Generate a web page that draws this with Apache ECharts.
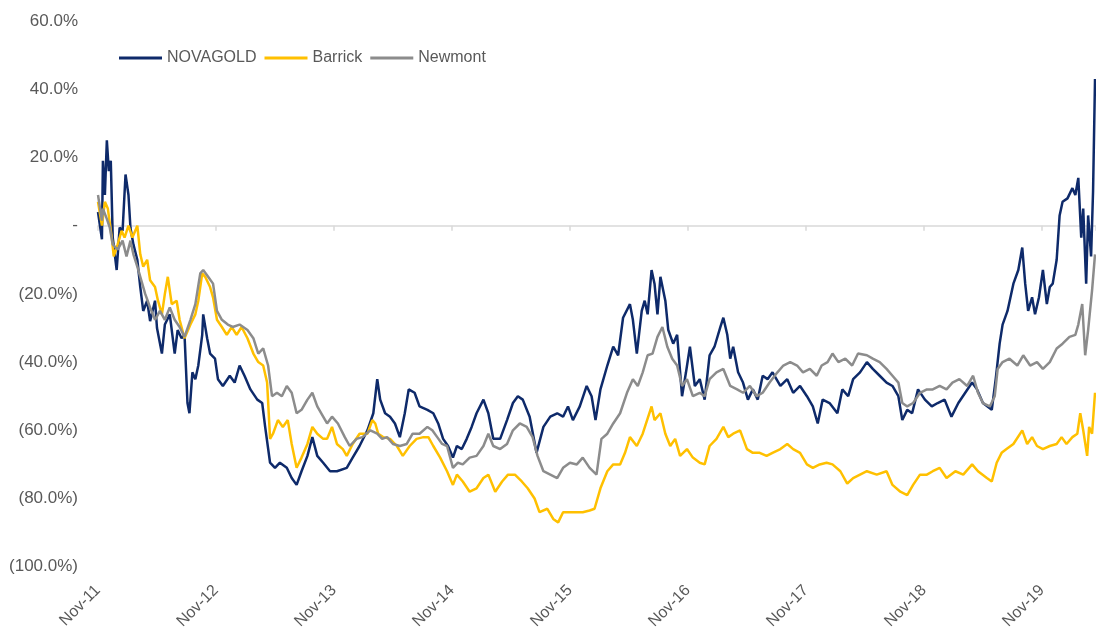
<!DOCTYPE html>
<html>
<head>
<meta charset="utf-8">
<script src="https://cdn.jsdelivr.net/npm/echarts@6/dist/echarts.min.js"></script>
<style>
html,body{margin:0;padding:0;background:#fff;}
#chart{width:1096px;height:632px;}
</style>
</head>
<body>
<div id="chart"></div>
<script>
// x values are months since Nov-2011
const xTickLabels = ['Nov-11','Nov-12','Nov-13','Nov-14','Nov-15','Nov-16','Nov-17','Nov-18','Nov-19'];
const seriesNames = ['NOVAGOLD','Barrick','Newmont'];

const novaMonths = [0.0,0.4,0.5,0.7,0.9,1.1,1.3,1.5,1.9,2.2,2.5,2.8,3.1,3.3,3.6,4.0,4.3,4.6,5.0,5.3,5.8,6.0,6.5,6.8,7.3,7.8,8.1,8.5,8.8,9.1,9.3,9.6,9.9,10.2,10.6,10.7,11.1,11.4,11.9,12.2,12.7,13.4,13.9,14.4,14.9,15.5,16.2,16.7,17.0,17.5,18.0,18.5,19.2,19.7,20.2,20.7,21.3,21.8,22.3,22.9,23.6,24.3,25.3,25.9,26.6,27.4,28.0,28.4,28.7,29.2,29.7,30.2,30.7,31.2,31.6,32.2,32.7,33.5,34.1,34.6,35.1,35.6,36.1,36.5,37.0,37.5,38.0,38.5,39.2,39.7,40.2,40.9,41.6,42.2,42.7,43.2,43.9,44.6,45.3,46.0,46.7,47.3,47.8,48.3,49.0,49.7,50.2,50.6,51.1,51.8,52.4,52.9,53.4,54.1,54.4,54.8,55.3,55.6,55.9,56.3,56.6,56.9,57.2,57.7,58.0,58.5,58.9,59.4,59.8,60.2,60.7,61.2,61.7,62.2,62.7,63.3,63.6,64.0,64.3,64.6,65.1,65.6,66.1,66.6,67.1,67.6,68.1,68.6,69.4,70.1,70.7,71.4,72.1,72.7,73.2,73.7,74.4,75.2,75.7,76.3,76.8,77.5,78.2,78.8,79.5,80.2,80.8,81.4,81.8,82.3,82.8,83.4,84.1,84.8,85.4,86.1,86.8,87.5,88.2,88.9,89.4,90.0,90.9,91.3,91.7,92.0,92.5,93.1,93.6,94.0,94.3,94.6,95.0,95.3,95.7,96.1,96.5,96.8,97.1,97.5,97.8,98.1,98.6,99.1,99.4,99.7,100.0,100.2,100.5,100.7,101.0,101.2,101.4];
const novaValues = [4,-4,19,9,25,16,19,-3.5,-13,-0.6,-1.5,15,9,-0.6,-5.5,-10,-18,-25,-22,-28,-22,-30,-37.5,-29,-26,-37.5,-30.6,-33,-32,-52,-55,-43,-45,-41,-32,-26,-33,-37.5,-39,-45,-47,-44,-46,-41,-44,-48,-51,-52,-59,-69.5,-71,-69.5,-71,-74,-76,-72,-67.5,-62,-67.5,-69.5,-72,-72,-71,-68,-64.6,-60,-55,-45,-51,-55,-56,-58,-62,-55,-48,-49,-53,-54,-55,-58,-62.5,-64.6,-68,-64.6,-65.5,-62.5,-59,-55,-51,-55,-62.5,-62.5,-57,-52,-50,-51,-56,-66.6,-59,-56,-55,-56,-53,-57,-53,-47,-50,-57,-48,-41,-35.5,-38,-27,-23,-27.6,-37.5,-25,-22,-26,-13,-17,-26,-15,-22,-30.6,-34.6,-32,-50,-43,-35.5,-47,-45,-51,-38,-35.5,-29.7,-27,-32,-39,-35.5,-43,-46,-51,-48,-51,-44,-45,-43,-47,-45,-49,-47,-50,-53,-58,-51,-52,-55,-48,-50,-45,-43,-40,-42,-44,-46,-47,-50,-57,-54,-55,-48,-51,-53,-52,-51,-56,-52,-49,-46,-48,-52,-54,-45,-34.6,-29,-25,-17,-13,-6.4,-17,-25,-21,-26,-21,-13,-23,-18,-17,-10,3,7,8,11,9,14,-3.5,5,-17,3,-9,10,43];

const barrickMonths = [0.0,0.4,0.7,1.0,1.4,1.6,2.0,2.4,2.7,3.1,3.5,4.0,4.3,4.6,5.0,5.3,5.8,6.1,6.5,6.8,7.1,7.5,8.0,8.3,8.8,9.4,9.9,10.2,10.6,10.9,11.4,11.7,12.1,12.6,13.1,13.6,14.1,14.6,15.2,15.8,16.3,16.8,17.2,17.5,17.8,18.3,18.8,19.3,19.7,20.2,20.7,21.3,21.8,22.3,22.9,23.3,23.8,24.3,24.9,25.3,25.9,26.6,27.4,27.9,28.2,28.5,29.0,29.7,30.4,31.0,31.7,32.4,33.1,33.6,34.1,34.8,35.5,36.1,36.5,37.1,37.8,38.5,39.2,39.7,40.4,41.1,41.7,42.4,43.1,43.7,44.4,44.9,45.7,46.3,46.8,47.3,48.0,48.7,49.3,50.0,50.5,51.1,51.8,52.4,53.1,53.6,54.1,54.8,55.4,56.3,56.6,57.2,57.7,58.2,58.7,59.2,59.9,60.5,61.2,61.7,62.2,62.9,63.6,64.1,64.6,65.3,66.0,66.6,67.3,68.0,68.6,69.4,70.1,70.7,71.4,72.1,72.7,73.4,74.1,74.7,75.5,76.2,76.8,77.5,78.2,79.2,80.2,80.8,81.6,82.3,82.9,83.6,84.3,84.9,85.6,86.3,87.2,88.0,88.9,89.5,90.4,90.9,91.4,91.9,92.4,93.1,94.0,94.5,95.0,95.5,96.1,96.8,97.5,98.0,98.5,99.1,99.6,99.9,100.2,100.6,100.8,101.1,101.4];
const barrickValues = [7,0,7,5,-3.5,-9,-5.5,-1.5,-3.5,0,-3.5,0,-8.4,-12,-10,-16,-18,-22,-26,-20,-15,-23,-22,-27.6,-33,-29,-26,-22,-14,-15,-18,-21,-27.6,-29.7,-32,-29.7,-32,-29.7,-33,-37.5,-40,-41,-46,-62.5,-61,-57,-59,-57,-64,-71,-68,-64,-59,-61,-62.5,-62.5,-59,-64,-65.5,-67.5,-64,-61,-61,-57,-58,-61,-62,-62.5,-64.6,-67.5,-64.6,-62.5,-62,-62,-64.6,-68,-72,-76,-73,-75,-78,-77,-74,-73,-78,-75,-73,-73,-75,-77,-80,-84,-83,-86,-87,-84,-84,-84,-84,-83.5,-83,-77,-72,-70,-70,-66.6,-62,-64.6,-61,-53,-57,-55,-61,-64.6,-62.5,-67.5,-65.5,-68,-69.5,-70,-64.6,-62.5,-59,-62,-61,-60,-65.5,-66.6,-66.6,-67.5,-66.6,-65.5,-64,-65.5,-66.6,-70,-71,-70,-69.5,-70,-72,-75.6,-74,-73,-72,-73,-72,-76,-78,-79,-76,-73,-73,-72,-71,-74,-72,-73,-70,-72,-74,-75,-69.5,-66.6,-65.5,-64,-60,-64,-62,-64.6,-65.5,-64.6,-64,-62,-64,-62,-61,-55,-60,-67.5,-59,-61,-49];

const newmontMonths = [0.0,0.4,0.5,0.9,1.2,1.5,2.0,2.5,2.9,3.3,3.6,4.0,4.3,4.8,5.3,5.8,6.3,6.8,7.3,7.8,8.3,8.8,9.4,9.9,10.4,10.7,11.2,11.7,12.1,12.6,13.2,13.7,14.4,15.2,15.8,16.3,16.8,17.3,17.7,18.2,18.7,19.2,19.7,20.2,20.7,21.3,21.8,22.3,22.9,23.3,23.8,24.4,25.1,25.6,26.3,26.9,27.7,28.4,28.9,29.4,30.0,30.7,31.4,32.0,32.7,33.5,34.0,34.5,35.0,35.5,36.1,36.6,37.1,37.8,38.5,39.2,39.7,40.2,40.9,41.6,42.2,42.9,43.6,44.2,44.7,45.3,46.0,46.7,47.3,48.0,48.7,49.3,50.0,50.7,51.2,51.8,52.4,53.1,53.8,54.4,54.9,55.4,55.9,56.4,56.9,57.4,57.9,58.4,58.9,59.4,59.9,60.5,61.2,61.7,62.2,62.9,63.6,64.3,65.0,65.6,66.3,67.0,67.6,68.3,69.1,69.7,70.4,71.1,71.7,72.4,73.1,73.6,74.2,74.7,75.3,76.0,76.7,77.3,78.2,78.8,79.5,80.2,80.8,81.4,81.8,82.3,82.9,83.6,84.3,84.9,85.6,86.3,86.9,87.6,88.4,89.0,89.5,90.0,90.7,91.2,91.5,92.0,92.7,93.5,94.1,94.8,95.5,96.1,96.8,97.5,98.1,98.8,99.4,99.7,100.1,100.4,100.7,101.1,101.4];
const newmontValues = [9,1.5,5,2,-0.6,-5.5,-7,-4.4,-9,-4.4,-8.4,-12,-15,-20,-24,-27.6,-25,-27.6,-24,-27.6,-29.7,-32.6,-27.6,-23,-14,-13,-15,-17,-25,-27.6,-29,-29.7,-29,-30.6,-33,-37.5,-36,-41,-50,-49,-50,-47,-49,-55,-54,-51,-49,-53,-56,-58,-56,-58,-62,-64.6,-62.5,-62,-60,-61,-62.5,-62,-64,-64.6,-64,-61,-61,-59,-60,-62,-64,-64.6,-71,-69.5,-70,-68,-67.5,-64.6,-61,-64.6,-65.5,-64,-60,-58,-59,-62,-67.5,-72,-73,-74,-71,-69.5,-70,-68,-71,-73,-62.5,-61,-58,-55,-49,-45,-47,-43,-38,-37.5,-32.6,-29.7,-35.5,-39,-41,-47,-45,-50,-49,-50,-45,-43,-42,-47,-48,-49,-47,-50,-49,-46,-43,-41,-40,-41,-43,-42,-44,-41,-40,-37.5,-40,-39,-41,-37.5,-38,-39,-40,-42,-44,-46,-52,-53,-52,-49,-48,-48,-47,-48,-46,-45,-47,-44,-49,-52,-53,-50,-42,-40,-39,-41,-38,-41,-40,-42,-40,-36,-34.6,-32.6,-32,-29,-23,-38,-30.6,-19,-8.4];

function zip(xs, ys){ return xs.map((x,i)=>[x, ys[i]]); }

const FONT = 'Liberation Sans';
const TXT = '#595959';
const COLORS = ['#0E2A6A', '#FFC000', '#8C8C8C'];
const chart = echarts.init(document.getElementById('chart'), null, {renderer:'canvas'});
chart.setOption({
  animation:false,
  backgroundColor:'#ffffff',
  textStyle:{fontFamily:FONT},
  legend:{
    left:119, top:50, padding:0,
    icon:'rect',
    itemWidth:43, itemHeight:3, itemGap:8,
    textStyle:{color:TXT, fontSize:16, fontFamily:FONT},
    data:seriesNames
  },
  grid:{left:98, right:0, top:21, bottom:58, containLabel:false},
  xAxis:[{
    type:'value', min:0, max:101.5, interval:12, position:'bottom',
    axisLine:{show:false, onZero:false}, axisTick:{show:false}, splitLine:{show:false},
    axisLabel:{rotate:45, margin:21, color:TXT, fontSize:16, fontFamily:FONT, showMaxLabel:false,
      formatter:function(v){ const i=Math.round(v/12); return (Math.abs(v-i*12)<1e-6 && xTickLabels[i]) ? xTickLabels[i] : ''; }}
  },{
    type:'value', min:0, max:101.5, interval:12, position:'bottom',
    axisLine:{show:true, onZero:true, lineStyle:{color:'#D9D9D9', width:1.5}},
    axisTick:{show:true, length:5, lineStyle:{color:'#D9D9D9', width:1.5}},
    splitLine:{show:false}, axisLabel:{show:false}
  }],
  yAxis:{
    type:'value', min:-100, max:60, interval:20,
    axisLine:{show:false}, axisTick:{show:false}, splitLine:{show:false},
    axisLabel:{margin:20, color:TXT, fontSize:17, fontFamily:FONT,
      formatter:function(v){
        if (Math.abs(v)<1e-9) return '-';
        if (v<0) return '(' + Math.abs(v).toFixed(1) + '%)';
        return v.toFixed(1) + '%';
      }}
  },
  series:[
    {name:'NOVAGOLD', type:'line', xAxisIndex:0, data:zip(novaMonths, novaValues), symbol:'none', lineStyle:{color:COLORS[0], width:2.5}, itemStyle:{color:COLORS[0]}},
    {name:'Barrick', type:'line', xAxisIndex:0, data:zip(barrickMonths, barrickValues), symbol:'none', lineStyle:{color:COLORS[1], width:2.5}, itemStyle:{color:COLORS[1]}},
    {name:'Newmont', type:'line', xAxisIndex:0, data:zip(newmontMonths, newmontValues), symbol:'none', lineStyle:{color:COLORS[2], width:2.5}, itemStyle:{color:COLORS[2]}}
  ]
});
</script>
</body>
</html>
